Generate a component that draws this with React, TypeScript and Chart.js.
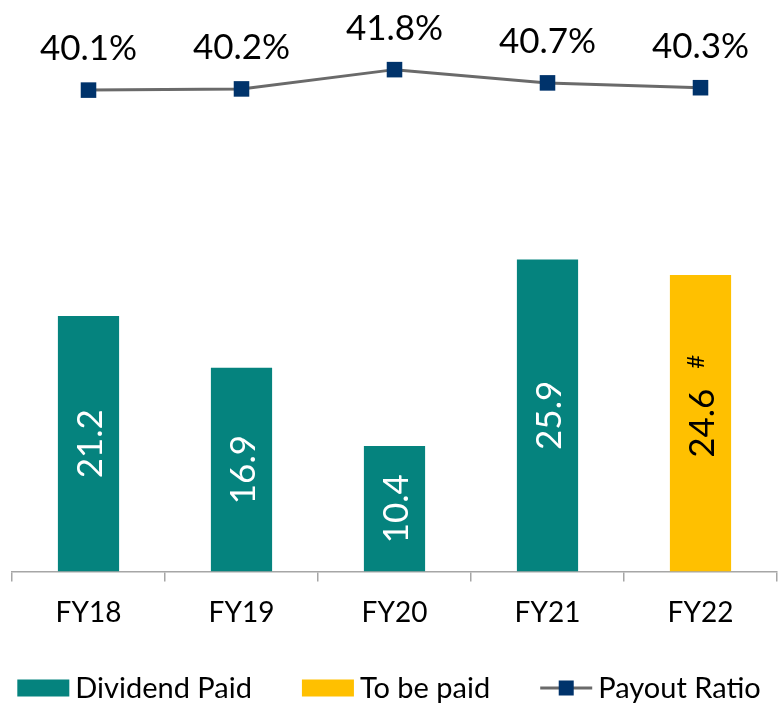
import React, { useEffect, useRef } from "react";
import { Chart, registerables } from "chart.js";

Chart.register(...registerables);

const categories = ["FY18", "FY19", "FY20", "FY21", "FY22"];
const dividendPaid: (number | null)[] = [21.2, 16.9, 10.4, 25.9, null];
const toBePaid: (number | null)[] = [null, null, null, null, 24.6];
const payoutRatio = [40.1, 40.2, 41.8, 40.7, 40.3];
const footnoteMark = "#";

const TEAL = "#05837E";
const GOLD = "#FFC000";
const NAVY = "#00336B";
const LINE_GREY = "#6A6A6A";
const AXIS_GREY = "#A6A6A6";
const FONT = "Lato, 'Open Sans', sans-serif";

const labelPlugin = {
  id: "valueLabels",
  afterDatasetsDraw(chart: any) {
    const ctx = chart.ctx as CanvasRenderingContext2D;
    ctx.save();
    [0, 1].forEach((di) => {
      const meta = chart.getDatasetMeta(di);
      const ds = chart.data.datasets[di];
      meta.data.forEach((el: any, i: number) => {
        const v = ds.data[i];
        if (v === null || v === undefined) return;
        const cy = (el.y + el.base) / 2;
        const txt = v.toFixed(1);
        ctx.save();
        ctx.translate(el.x, cy);
        ctx.rotate(-Math.PI / 2);
        ctx.font = `35px ${FONT}`;
        ctx.textAlign = "center";
        ctx.textBaseline = "alphabetic";
        ctx.fillStyle = di === 0 ? "#FFFFFF" : "#000000";
        ctx.fillText(txt, 0, 13);
        if (di === 1) {
          const w = ctx.measureText(txt).width;
          ctx.font = `24px ${FONT}`;
          ctx.textAlign = "left";
          ctx.fillText(footnoteMark, w / 2 + 20, 3);
        }
        ctx.restore();
      });
    });
    const lmeta = chart.getDatasetMeta(2);
    lmeta.data.forEach((el: any, i: number) => {
      ctx.font = `35px ${FONT}`;
      ctx.textAlign = "center";
      ctx.textBaseline = "alphabetic";
      ctx.fillStyle = "#000000";
      ctx.fillText(payoutRatio[i].toFixed(1) + "%", el.x, el.y - 30);
    });
    ctx.restore();
  },
};

const legendPlugin = {
  id: "customLegend",
  afterDraw(chart: any) {
    const ctx = chart.ctx as CanvasRenderingContext2D;
    const items = [
      { label: "Dividend Paid", kind: "box", color: TEAL },
      { label: "To be paid", kind: "box", color: GOLD },
      { label: "Payout Ratio", kind: "line", color: NAVY },
    ];
    ctx.save();
    ctx.font = `29px ${FONT}`;
    const sym = 52;
    const gap = 6;
    const itemGap = 50;
    const widths = items.map((it) => sym + gap + ctx.measureText(it.label).width);
    const total = widths.reduce((a, b) => a + b, 0) + itemGap * (items.length - 1);
    let x = (chart.width - total) / 2;
    const cy = 688;
    items.forEach((it, i) => {
      if (it.kind === "box") {
        ctx.fillStyle = it.color;
        ctx.fillRect(x, cy - 8.5, sym, 17);
      } else {
        ctx.strokeStyle = LINE_GREY;
        ctx.lineWidth = 3;
        ctx.beginPath();
        ctx.moveTo(x, cy);
        ctx.lineTo(x + sym, cy);
        ctx.stroke();
        ctx.fillStyle = it.color;
        ctx.fillRect(x + sym / 2 - 7.5, cy - 7.5, 15, 15);
      }
      ctx.fillStyle = "#000000";
      ctx.textAlign = "left";
      ctx.textBaseline = "middle";
      ctx.fillText(it.label, x + sym + gap, cy + 1);
      x += widths[i] + itemGap;
    });
    ctx.restore();
  },
};

export default function App() {
  const canvasRef = useRef<HTMLCanvasElement | null>(null);

  useEffect(() => {
    if (!canvasRef.current) return;
    const chart = new Chart(canvasRef.current, {
      data: {
        labels: categories,
        datasets: [
          {
            type: "bar",
            label: "Dividend Paid",
            data: dividendPaid,
            backgroundColor: TEAL,
            grouped: false,
            barPercentage: 0.4,
            categoryPercentage: 1,
            yAxisID: "y",
            order: 2,
          } as any,
          {
            type: "bar",
            label: "To be paid",
            data: toBePaid,
            backgroundColor: GOLD,
            grouped: false,
            barPercentage: 0.4,
            categoryPercentage: 1,
            yAxisID: "y",
            order: 2,
          } as any,
          {
            type: "line",
            label: "Payout Ratio",
            data: payoutRatio,
            borderColor: LINE_GREY,
            borderWidth: 3,
            pointStyle: "rect",
            pointRadius: 11,
            pointBackgroundColor: NAVY,
            pointBorderColor: NAVY,
            pointBorderWidth: 0,
            tension: 0,
            clip: false,
            yAxisID: "y1",
            order: 1,
          } as any,
        ],
      },
      options: {
        responsive: false,
        animation: false,
        layout: { autoPadding: false, padding: { top: 10, left: 12, right: 1, bottom: 58 } },
        plugins: {
          legend: { display: false },
          tooltip: { enabled: false },
        },
        scales: {
          x: {
            offset: true,
            grid: {
              display: true,
              offset: true,
              drawOnChartArea: false,
              drawTicks: true,
              tickLength: 10,
              color: AXIS_GREY,
              lineWidth: 1.5,
            },
            border: { display: true, color: AXIS_GREY, width: 1.5 },
            ticks: {
              color: "#000000",
              font: { family: FONT, size: 28 },
              padding: 15,
              maxRotation: 0,
            },
          },
          y: { display: false, min: 0, max: 46.6 },
          y1: { display: false, min: 0.15, max: 46.75 },
        },
      },
      plugins: [labelPlugin, legendPlugin],
    } as any);
    return () => chart.destroy();
  }, []);

  return (
    <div style={{ position: "absolute", left: 0, top: 0, width: 778, height: 703, background: "#fff" }}>
      <canvas ref={canvasRef} width={778} height={703} style={{ width: 778, height: 703, display: "block" }} />
    </div>
  );
}
